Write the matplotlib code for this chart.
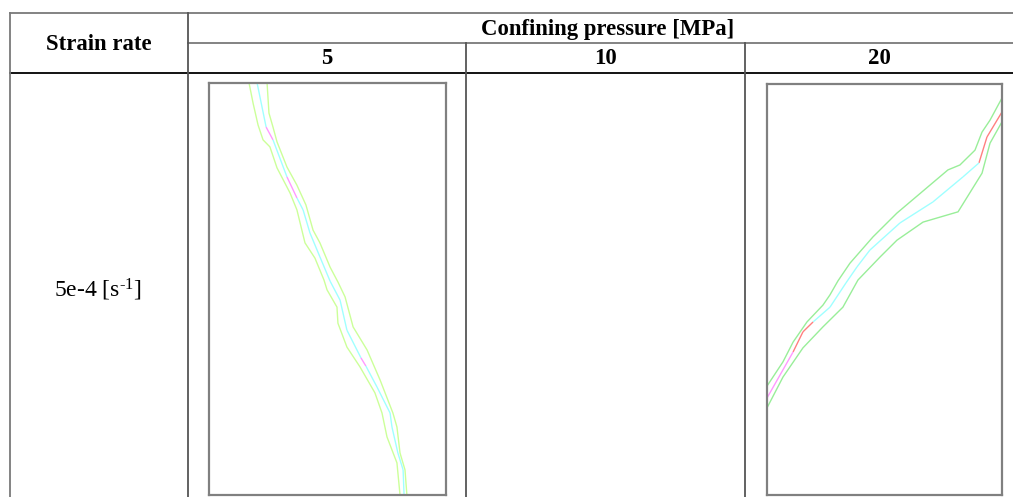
import matplotlib
matplotlib.use("Agg")
import matplotlib.pyplot as plt

plt.rcParams['font.family'] = ['Liberation Serif', 'DejaVu Serif']
plt.rcParams['mathtext.fontset'] = 'custom'
plt.rcParams['mathtext.rm'] = 'Liberation Serif'
plt.rcParams['mathtext.it'] = 'Liberation Serif:italic'

# ---------------- data ----------------
row_header = "Strain rate"
col_group_header = "Confining pressure [MPa]"
pressures = ["5", "10", "20"]
strain_rate_label = r"5e-4 [s$^{\text{-1}}$]"

# crack paths, normalised specimen coords (x: 0..1 across, y: 0 bottom .. 1 top)
p5_center_x = [0.203, 0.241, 0.270, 0.329, 0.371, 0.397, 0.426, 0.468, 0.511, 0.553,
               0.582, 0.641, 0.662, 0.709, 0.764, 0.772, 0.797, 0.819, 0.823]
p5_center_y = [1.000, 0.893, 0.862, 0.772, 0.721, 0.692, 0.636, 0.578, 0.519, 0.473,
               0.400, 0.333, 0.313, 0.262, 0.199, 0.165, 0.102, 0.061, 0.000]
p5_center_seg = ['c', 'm', 'c', 'm', 'c', 'c', 'c', 'c', 'c', 'c',
                 'c', 'm', 'c', 'c', 'c', 'c', 'c', 'c']
p5_left_x = [0.169, 0.186, 0.207, 0.228, 0.257, 0.287, 0.342, 0.371, 0.405, 0.447, 0.485,
             0.498, 0.540, 0.544, 0.582, 0.637, 0.700, 0.730, 0.751, 0.793, 0.806]
p5_left_y = [1.000, 0.951, 0.898, 0.862, 0.845, 0.794, 0.733, 0.692, 0.612, 0.575, 0.522,
             0.498, 0.456, 0.417, 0.359, 0.311, 0.248, 0.199, 0.141, 0.078, 0.000]
p5_right_x = [0.245, 0.253, 0.270, 0.287, 0.329, 0.371, 0.409, 0.439, 0.468, 0.511,
              0.544, 0.574, 0.608, 0.667, 0.722, 0.776, 0.793, 0.806, 0.827, 0.835]
p5_right_y = [1.000, 0.927, 0.893, 0.857, 0.796, 0.752, 0.704, 0.643, 0.612, 0.553,
              0.517, 0.481, 0.408, 0.352, 0.279, 0.199, 0.165, 0.102, 0.061, 0.000]

p20_center_x = [1.000, 0.936, 0.902, 0.834, 0.706, 0.566, 0.438, 0.383, 0.336, 0.268,
                0.196, 0.153, 0.111, 0.000]
p20_center_y = [0.932, 0.871, 0.808, 0.774, 0.713, 0.662, 0.596, 0.555, 0.516, 0.457,
                0.421, 0.397, 0.348, 0.236]
p20_center_seg = ['r', 'r', 'c', 'c', 'c', 'c', 'c', 'c', 'c', 'c', 'r', 'r', 'm']
p20_upper_x = [1.000, 0.949, 0.915, 0.885, 0.821, 0.770, 0.553, 0.451, 0.353, 0.302,
               0.268, 0.238, 0.170, 0.111, 0.068, 0.000]
p20_upper_y = [0.966, 0.912, 0.883, 0.839, 0.803, 0.791, 0.686, 0.628, 0.564, 0.521,
               0.487, 0.462, 0.421, 0.372, 0.324, 0.265]
p20_lower_x = [1.000, 0.949, 0.915, 0.813, 0.664, 0.553, 0.481, 0.387, 0.323, 0.238,
               0.153, 0.068, 0.000]
p20_lower_y = [0.908, 0.856, 0.783, 0.689, 0.664, 0.620, 0.579, 0.523, 0.457, 0.409,
               0.358, 0.287, 0.212]

seg_colors = {'c': '#a0ffff', 'm': '#ff99ff', 'r': '#ff8080'}

# ---------------- figure ----------------
W, H = 1013, 497
fig = plt.figure(figsize=(W / 100, H / 100), dpi=100)
tab = fig.add_axes([0, 0, 1, 1])
tab.set_xlim(0, W)
tab.set_ylim(H, 0)
tab.axis('off')

grey = '#7a7a7a'
lw_t = 1.3
# horizontal lines
tab.plot([10, W + 5], [13, 13], color=grey, lw=lw_t)
tab.plot([188, W + 5], [43, 43], color=grey, lw=lw_t)
tab.plot([10, W + 5], [73, 73], color='black', lw=lw_t)
# vertical lines
tab.plot([10, 10], [13, H + 5], color=grey, lw=lw_t)
tab.plot([188, 188], [13, H + 5], color='#555555', lw=lw_t)
tab.plot([466, 466], [43, H + 5], color='#555555', lw=lw_t)
tab.plot([745, 745], [43, H + 5], color='#555555', lw=lw_t)

fs = 16.4
tab.text(99, 44, row_header, ha='center', va='center', fontsize=fs, fontweight='bold')
tab.text(608, 29, col_group_header, ha='center', va='center', fontsize=fs, fontweight='bold')
for xc, lab in zip([327, 605, 879], pressures):
    tab.text(xc, 59, lab, ha='center', va='center', fontsize=fs, fontweight='bold')
tab.text(98, 290, strain_rate_label, ha='center', va='center', fontsize=17)


def panel(left, right, top, bottom):
    ax = fig.add_axes([left / W, 1 - bottom / H, (right - left) / W, (bottom - top) / H])
    ax.set_xlim(0, 1)
    ax.set_ylim(0, 1)
    ax.set_xticks([])
    ax.set_yticks([])
    for s in ax.spines.values():
        s.set_color('#808080')
        s.set_linewidth(1.6)
    return ax


def draw_center(ax, xs, ys, segs):
    for i, c in enumerate(segs):
        ax.plot(xs[i:i + 2], ys[i:i + 2], color=seg_colors[c], lw=1.0,
                solid_capstyle='butt', clip_on=True)


ax1 = panel(209, 446, 83, 495)
ax1.plot(p5_left_x, p5_left_y, color='#ccff99', lw=1.0)
ax1.plot(p5_right_x, p5_right_y, color='#ccff99', lw=1.0)
draw_center(ax1, p5_center_x, p5_center_y, p5_center_seg)

ax3 = panel(767, 1002, 84, 495)
ax3.plot(p20_upper_x, p20_upper_y, color='#99ee99', lw=1.0)
ax3.plot(p20_lower_x, p20_lower_y, color='#99ee99', lw=1.0)
draw_center(ax3, p20_center_x, p20_center_y, p20_center_seg)

fig.savefig('out.png', dpi=100)
